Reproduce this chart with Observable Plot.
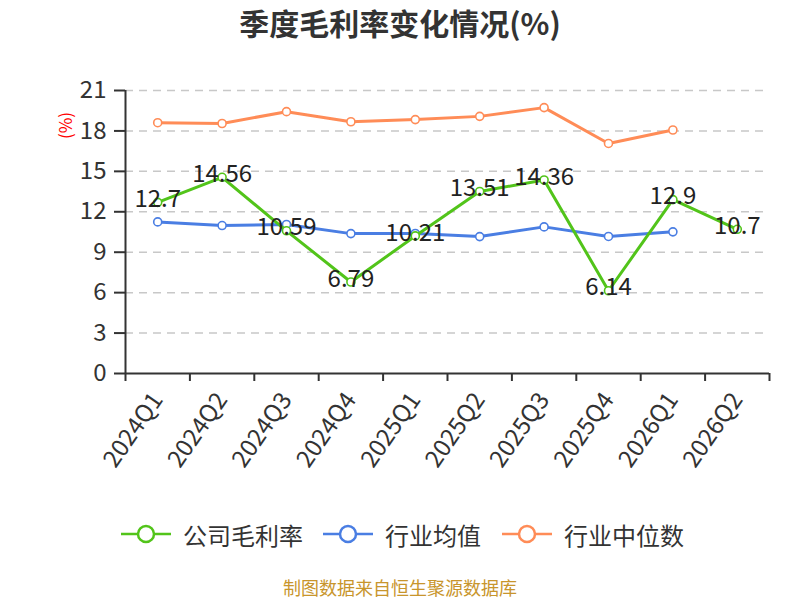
<!DOCTYPE html>
<html>
<head>
<meta charset="utf-8">
<script src="https://cdn.jsdelivr.net/npm/d3@7"></script>
<script src="https://cdn.jsdelivr.net/npm/@observablehq/plot@0.6"></script>
<style>
  html, body { margin: 0; padding: 0; background: #fff; }
  body { width: 800px; height: 600px; overflow: hidden; font-family: "Noto Sans CJK SC", "Noto Sans", sans-serif; }
  #title { height: 50px; line-height: 44px; text-align: center; font-size: 30px; font-weight: bold; color: #333; }
  #legend { position: relative; height: 75px; }
  .item { position: absolute; top: 17px; height: 34px; display: flex; align-items: center; font-size: 24px; color: #333; }
  .item svg { margin-right: 12px; }
  #caption { height: 25px; line-height: 24px; text-align: center; font-size: 18px; color: #c8952c; }
</style>
</head>
<body>
<div id="title">季度毛利率变化情况(%)</div>
<div id="chart"></div>
<div id="legend"></div>
<div id="caption">制图数据来自恒生聚源数据库</div>
<script>
const quarters = ["2024Q1","2024Q2","2024Q3","2024Q4","2025Q1","2025Q2","2025Q3","2025Q4","2026Q1","2026Q2"];
const companyMargin = [12.7, 14.56, 10.59, 6.79, 10.21, 13.51, 14.36, 6.14, 12.9, 10.7];
const industryMean = [11.25, 10.98, 11.06, 10.38, 10.39, 10.16, 10.88, 10.17, 10.51];
const industryMedian = [18.61, 18.55, 19.43, 18.68, 18.84, 19.08, 19.73, 17.07, 18.07];
const yTicks = [0, 3, 6, 9, 12, 15, 18, 21];
const seriesNames = ["公司毛利率", "行业均值", "行业中位数"];
const seriesColors = ["#52c41a", "#4a7ee3", "#ff8c57"];

const toRows = (vals, name) => vals.map((v, i) => ({i, q: quarters[i], v, name}));
const rowsCompany = toRows(companyMargin, seriesNames[0]);
const rowsMean = toRows(industryMean, seriesNames[1]);
const rowsMedian = toRows(industryMedian, seriesNames[2]);
const idx = quarters.map((q, i) => i);
const bounds = quarters.map((q, i) => i - 0.5).concat([quarters.length - 0.5]);

const font = '"Noto Sans CJK SC", "Noto Sans", sans-serif';

const lineMarks = (rows, color) => [
  Plot.line(rows, {x: "i", y: "v", stroke: color, strokeWidth: 3}),
  Plot.dot(rows, {x: "i", y: "v", r: 4, fill: "#fff", stroke: color, strokeWidth: 1.6})
];

const chart = Plot.plot({
  width: 800,
  height: 450,
  marginTop: 40,
  marginBottom: 127,
  marginLeft: 125,
  marginRight: 31,
  style: {fontFamily: font, background: "#fff", overflow: "visible"},
  x: {type: "linear", domain: [-0.5, quarters.length - 0.5]},
  y: {domain: [0, 21]},
  marks: [
    Plot.ruleY(yTicks.filter(t => t > 0), {stroke: "#c8c8c8", strokeWidth: 1.5, strokeDasharray: "8,6"}),
    Plot.axisY({ticks: yTicks, tickSize: 11, tickPadding: 8, fontSize: 24, color: "#333", stroke: "#333", strokeWidth: 2, label: null, tickFormat: d => String(d)}),
    Plot.ruleX([-0.5], {stroke: "#333", strokeWidth: 2}),
    Plot.axisX({ticks: bounds, tickSize: 8, tickFormat: () => "", stroke: "#333", strokeWidth: 2, label: null}),
    Plot.axisX({ticks: idx, tickSize: 0, tickPadding: 22, tickRotate: -55, fontSize: 24, color: "#333", label: null, tickFormat: i => quarters[i]}),
    Plot.ruleY([0], {stroke: "#333", strokeWidth: 2}),
    ...lineMarks(rowsMedian, seriesColors[2]),
    ...lineMarks(rowsMean, seriesColors[1]),
    ...lineMarks(rowsCompany, seriesColors[0]),
    Plot.text(rowsCompany, {x: "i", y: "v", text: d => String(d.v), dy: -3, fontSize: 24, fill: "#222"}),
    Plot.text(["(%)"], {frameAnchor: "top-left", textAnchor: "middle", lineAnchor: "middle", dx: -59, dy: 35, rotate: -90, fill: "#ff0000", fontSize: 17})
  ]
});
document.getElementById("chart").appendChild(chart);

const legend = document.getElementById("legend");
const lefts = [121, 323, 502];
seriesNames.forEach((name, k) => {
  const div = document.createElement("div");
  div.className = "item";
  div.style.left = lefts[k] + "px";
  const c = seriesColors[k];
  div.innerHTML = `<svg width="50" height="30"><line x1="0" y1="15" x2="50" y2="15" stroke="${c}" stroke-width="2.5"/><circle cx="25" cy="15" r="8" fill="#fff" stroke="${c}" stroke-width="2.5"/></svg><span>${name}</span>`;
  legend.appendChild(div);
});
</script>
</body>
</html>
